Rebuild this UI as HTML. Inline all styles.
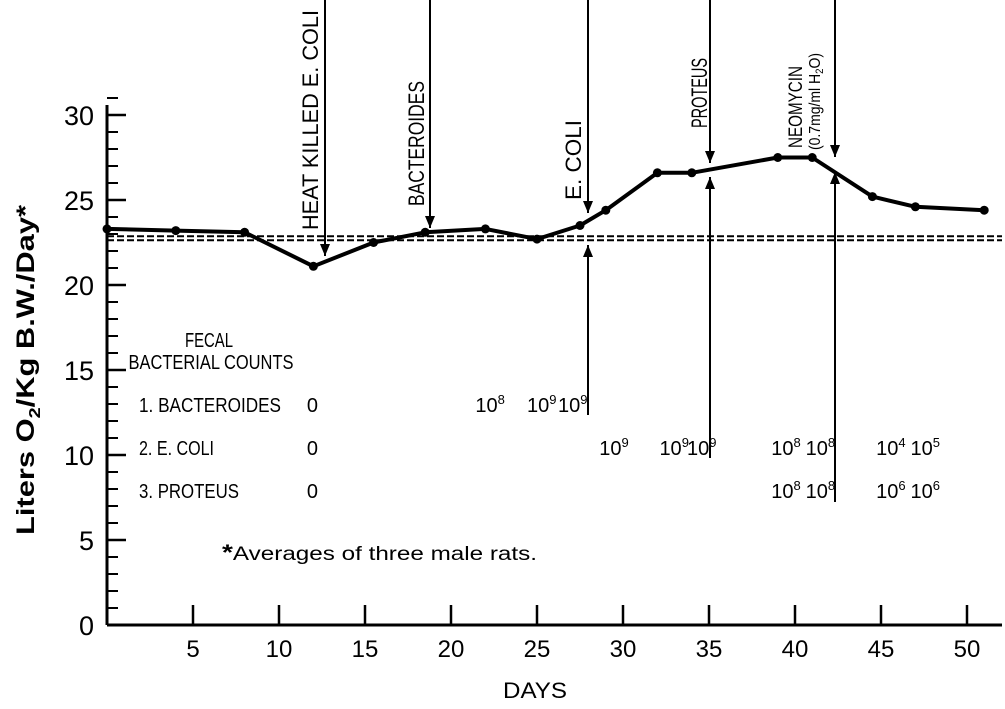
<!DOCTYPE html>
<html><head><meta charset="utf-8"><style>
body{margin:0;background:#fff}
svg text{font-family:"Liberation Sans",sans-serif;fill:#000}
</style></head><body>
<svg width="1005" height="704" viewBox="0 0 1005 704" xmlns="http://www.w3.org/2000/svg">
<g id="axes"></g>
<g id="marks"></g>
<g id="ann">
 <text transform="translate(34,370) rotate(-90)" text-anchor="middle" font-size="25" font-weight="bold" textLength="330" lengthAdjust="spacingAndGlyphs">Liters O<tspan font-size="16" dy="6">2</tspan><tspan dy="-6">/Kg B.W./Day*</tspan></text>
 <text x="535" y="698" text-anchor="middle" font-size="22" textLength="64" lengthAdjust="spacingAndGlyphs">DAYS</text>
 <text transform="translate(318,230) rotate(-90)" font-size="22" textLength="220" lengthAdjust="spacingAndGlyphs">HEAT KILLED E. COLI</text>
 <text transform="translate(424,206) rotate(-90)" font-size="22" textLength="125" lengthAdjust="spacingAndGlyphs">BACTEROIDES</text>
 <text transform="translate(581,200) rotate(-90)" font-size="22" textLength="80" lengthAdjust="spacingAndGlyphs">E. COLI</text>
 <text transform="translate(707,128) rotate(-90)" font-size="22" textLength="70" lengthAdjust="spacingAndGlyphs">PROTEUS</text>
 <text transform="translate(802,148) rotate(-90)" font-size="19" textLength="82" lengthAdjust="spacingAndGlyphs">NEOMYCIN</text>
 <text transform="translate(820,150) rotate(-90)" font-size="16" textLength="97" lengthAdjust="spacingAndGlyphs">(0.7mg/ml H<tspan font-size="11" dy="3">2</tspan><tspan dy="-3">O)</tspan></text>
 <text x="209" y="347" text-anchor="middle" font-size="20" textLength="48" lengthAdjust="spacingAndGlyphs">FECAL</text>
 <text x="211" y="369" text-anchor="middle" font-size="20" textLength="165" lengthAdjust="spacingAndGlyphs">BACTERIAL COUNTS</text>
 <text x="139" y="412" font-size="20" textLength="142" lengthAdjust="spacingAndGlyphs">1. BACTEROIDES</text>
 <text x="139" y="455" font-size="20" textLength="75" lengthAdjust="spacingAndGlyphs">2. E. COLI</text>
 <text x="139" y="498" font-size="20" textLength="100" lengthAdjust="spacingAndGlyphs">3. PROTEUS</text>
 <text x="222" y="560" font-size="19" textLength="315" lengthAdjust="spacingAndGlyphs"><tspan font-weight="bold" font-size="22">*</tspan>Averages of three male rats.</text>
</g>
<g id="counts"></g>
</svg>
<script>
const days=[0,4,8,12,15.5,18.5,22,25,27.5,29,32,34,39,41,44.5,47,51];
const o2=[23.3,23.2,23.1,21.1,22.5,23.1,23.3,22.7,23.5,24.4,26.6,26.6,27.5,27.5,25.2,24.6,24.4];
const xTicks=[5,10,15,20,25,30,35,40,45,50];
const yTicks=[0,5,10,15,20,25,30];
const baseline=22.75;
const countText=[["0",12.2,1],["0",12.2,2],["0",12.2,3],["8",22,1],["9",25,1],["9",26.8,1],["9",29.2,2],["9",32.7,2],["9",34.3,2],["8",39.2,2],["8",41.2,2],["4",45.3,2],["5",47.3,2],["8",39.2,3],["8",41.2,3],["6",45.3,3],["6",47.3,3]];
const X=d=>107+d*17.2, Y=v=>625-v*17;
const NS="http://www.w3.org/2000/svg";
function mk(p,t,a){const e=document.createElementNS(NS,t);for(const k in a)e.setAttribute(k,a[k]);p.appendChild(e);return e;}
const ax=document.getElementById('axes');
let e=mk(ax,'line',{x1:107,y1:105,x2:107,y2:625,stroke:'#000','stroke-width':3});

e=mk(ax,'line',{x1:107,y1:625,x2:1002,y2:625,stroke:'#000','stroke-width':3});

for(let v=1;v<=31;v++){if(v%5==0)continue;e=mk(ax,'line',{x1:107,y1:Y(v),x2:118,y2:Y(v),stroke:'#000','stroke-width':2});
}
yTicks.forEach(v=>{e=mk(ax,'line',{x1:107,y1:Y(v),x2:126,y2:Y(v),stroke:'#000','stroke-width':2.5});

e=mk(ax,'text',{x:94,y:Y(v)+10,'text-anchor':'end','font-size':27});e.textContent=v;
});
xTicks.forEach(d=>{e=mk(ax,'line',{x1:X(d),y1:605,x2:X(d),y2:625,stroke:'#000','stroke-width':2.5});

e=mk(ax,'text',{x:X(d),y:657,'text-anchor':'middle','font-size':24});e.textContent=d;
});
const mg=document.getElementById('marks');
[-2,2].forEach(off=>{e=mk(mg,'line',{x1:107,y1:Y(baseline)+off,x2:1002,y2:Y(baseline)+off,stroke:'#000','stroke-width':2,'stroke-dasharray':'7,3'});
});
e=mk(mg,'polyline',{points:days.map((d,i)=>X(d)+','+Y(o2[i])).join(' '),fill:'none',stroke:'#000','stroke-width':4,'stroke-linejoin':'round'});

days.forEach((d,i)=>{e=mk(mg,'circle',{cx:X(d),cy:Y(o2[i]),r:4.5,fill:'#000'});
});
function arrow(x,y1,y2,name){e=mk(mg,'line',{x1:x,y1:y1,x2:x,y2:y2,stroke:'#000','stroke-width':2});

const s=y2>y1?-1:1;e=mk(mg,'polygon',{points:`${x-5},${y2+s*12} ${x+5},${y2+s*12} ${x},${y2}`,fill:'#000'});
}
arrow(325,0,256,'arrow-heat-killed');arrow(430,0,228,'arrow-bacteroides');arrow(588,0,213,'arrow-ecoli');
arrow(588,415,245,'arrow-ecoli-up');arrow(710,0,163,'arrow-proteus');arrow(710,458,177,'arrow-proteus-up');
arrow(835,0,157,'arrow-neomycin');arrow(835,502,172,'arrow-neomycin-up');
const cg=document.getElementById('counts');
countText.forEach(c=>{const t=mk(cg,'text',{x:X(c[1])-10,y:369+c[2]*43,'font-size':20});

if(c[0]=="0"){t.textContent="0";}else{t.textContent="10";const sp=mk(t,'tspan',{dy:-8,'font-size':13});sp.textContent=c[0];}});
</script>
</body></html>
